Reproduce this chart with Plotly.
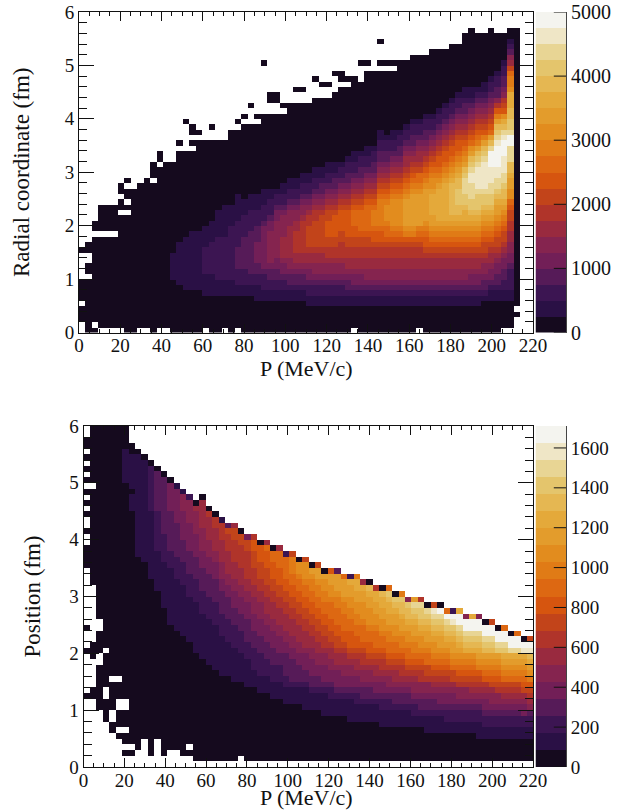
import plotly.graph_objects as go

# Each string is one P bin, read upward from the lowest coordinate bin.
# '.' = empty bin; 0-9,a-j = palette band of the count.
radial_bins = [
"..000.0000 .....0",
"0000000000 .00..00",
"0.00000000 00000000.0 0",
".000000000 00000000.0 0000",
".000000000 00000000.0 0000",
".000000000 00000000.0 0000",
".000000000 0000000000 00.00.00",
"0000000000 0000000000 00.0.00.0",
"0000000000 0000000000 0000000",
".000000000 0000000000 00000000",
".000000000 0000000000 000000000",
"0000000000 0000000000 00000000.0 00",
".000000000 0000000000 0000000000 0.00",
".000000000 0000000000 0000000000 00",
"0000000000 1111100000 0000000000 00",
"0000000001 1111111000 0000000000 0000.0",
"0000000011 1111111100 0000000000 0000.....0",
"0000000011 1111111110 0000000000 0000.0.00",
"0000000011 1111111110 0000000000 000000.0",
".000000111 1222221111 0000000000 000000",
"0000000111 1222222111 1000000000 000000..0",
"0000000111 2222222211 1110000000 000000",
".000000111 2222222211 1111000000 000000",
"0000000111 2222222222 1111000000 00000000",
".000000112 2233332222 2111110000 00000000.0",
"0000000112 2233333322 2211100000 000000000. 0",
"0000000112 2333333332 2221110000 000000000. ..0",
"0000001112 2334444333 2221110000 000000000. 0",
"0000001122 2344444444 3222111000 0000000000 0......... 0",
"0000001122 3345555554 4322211000 0000000000 0..00",
"0000001122 3344555555 5443221000 0000000000 0..00",
"0000001122 3445666655 5543221100 0000000000 0.0",
"0000001123 3455666666 5554322110 0000000000 000",
"0000001123 3456677776 6554322110 0000000000 000..0",
"0000001123 3456677777 7655432211 0000000000 000..0",
"0000011223 4456678888 7765432211 0000000000 000",
"0000011223 4556678888 8776543221 1000000000 0000...0",
"0000011223 4556678888 8876543321 1000000000 0000..0",
"0000011223 4556778899 9887654322 1100000000 0000..0",
"0000011223 4556778899 9987654332 1100000000 00000...0",
"0000011223 4556777889 9998765432 2100000000 000000.00",
"0000011233 4566778899 9998765433 2210000000 000000.0",
".000011234 4566778899 aaa9876543 2211000000 00000000",
"0000011234 456677889a aaa9876543 3221000000 0000000... 0",
"0000011234 556677889a aaaa987654 3221100000 000000000. 0",
"0000011234 556677899a bbba987654 3322100000 000000000.",
"0000011234 556677899a bbbbba9876 5433221100 000000000. 0...0",
"0000011234 55667789aa bcccba9876 5433221000 000000000. 0",
"0000011234 55667789ab cccccba987 6543221100 000000000. 0",
"0000011234 55667789ab cccccba987 6543322100 0000000000 0",
"0000011234 55667789bc dddddcba98 7665432210 0000000000 0",
"0000011234 55667789bc ddddddcba9 8765433221 0000000000 00",
".000011234 55667789ab ddddddcbaa 8766543221 0000000000 00",
"0000011234 55667899ab cddddddcba 9876543322 1000000000 00",
"0000011234 5566789abc ddeeeedccb a987654322 1000000000 000",
"0000011234 5566789abc deeeeeedcb a998765432 2100000000 000",
"0000011234 5566789abc deeeeeeedc ba99876543 2210000000 000",
"0000011234 5566789abc deffffffed cba9987654 3221000000 0000",
"0000011234 5566789abc deffgggffe dcba998765 4322100000 0000",
"0000011234 5566789abc deefgghhhg fdcba98765 4332110000 000000",
"0000011234 4566789abc defgghhhii hgfdca9876 5432110000 0000000",
"0000011234 4566789abc defggghiii ihgfdba987 6543210000 000000",
"0000001233 45567889ab cdefgghiii iihgfdb987 6543211000 000000",
"0000001123 44566789ab cdefgghhii ijjjhfda98 7654322100 0000000",
"0000001123 344567889a bcddefghhi ijjjjihgfd b975332210 000000",
".000001122 3344567889 abcdeffghh iiijjjihfe c987543322 100000",
".000001122 2234455667 7889accdde ffhhhjjhgg ffeeecbba8 6532100",
"...0.00000 0000000000 0000000000 0000000000 0000000000 0000000",
]

position_bins = [
".......... ..0....... 0...0..... .....0000. .0..0.0.0. 0.0.0.00..",
".......... ..00.....0 00........ ..00000000 000000000. 0000000000",
".......... 00000000.. 0000..0000 0000000000 0000000000 0000000000",
"........00 00..000000 .000000000 0000000000 0000000000 0000000000",
"......00.. 00000.0000 0000000000 0000000000 0000000000 0000000000",
".....0.000 ..000.0000 0000000000 0000000000 0000000000 0000000000",
"..0.00.000 ..00000000 0000000000 0000000000 0000000000 1111110000",
"..0.000000 0000000000 0000000000 0000000000 0000011101 1111100",
"...0000000 0000000000 0000000000 0000000111 1111111111 111110",
".....00000 0000000000 0000000000 0000001111 1111111111 11110",
"..00000000 0000000000 0000000000 0001111111 1111122222 2220",
".....00000 0000000000 0000000000 0111111122 2222233333 330",
"..00000000 0000000000 0000000011 1111112222 2333333333 30",
"...0000000 0000000000 0000011111 1111122233 3333344444 0",
"...0000000 0000000000 0000111111 1112222333 3334444441",
"..00000000 0000000000 0001111111 1122223333 444445551",
"..0.000000 0000000000 0011111111 2222333344 44455552",
".000000000 0000000000 1111111112 2223333444 4555560",
".000000000 0000000001 1111111222 2333344455 55666660",
".000000000 0000000011 1111112222 3333444555 666670",
".000000000 0000000111 1111122223 3334445566 66770",
".000000000 0000001111 1112222333 3445556666 7771",
".000000000 0000001111 1122223333 4455666677 783",
".000000000 0000011111 1222233344 4556667777 886",
"..00000000 0000011111 2222333444 5566677778 80",
".000000000 0000111112 2233334445 5667777788 4",
".000000000 0000111222 2333444555 6677788899 7",
".000000000 0001112222 3334445556 6778889990",
".000000000 0001112223 3344455666 77888999a6",
".000000000 0011122233 3444556667 788999aa0",
".000000000 0011122233 4445566677 88999aaa6",
".000000000 0111223333 4455666778 899aaaa2",
".000000000 0111233334 4556667788 99aabbb8",
".000000000 0111233344 5566677889 9aabcc0",
".000000000 1111233444 5666778899 aabccc8",
".000000000 1112334445 566778899a abbcd0",
".000000000 1112334455 66778899aa bbcdd8",
".000000001 1112344455 6778899aab bccd0",
".000000001 1122344556 678899aaab ccdd9",
".000000001 1123444566 78899aaabb cddd3",
".000000001 1123445566 7899aaabbc ddda",
".000000011 1123445567 8999aabbcc dde2",
".000000011 1223445667 899aabbccd deeb",
".000000011 1233455677 89aaabcccd de6",
".000000011 1233455678 99aabcccdd ef0",
".000000011 1234456678 9aaabccdde e7",
".000000111 2234456778 9aabccddee f0",
".000000111 2234556789 aabbcddeef ga",
".000000111 2334566789 aabccddefg 0",
".000000111 2334567789 abbcddeffg b",
".000000111 233456789a abccdeffg5",
".000000112 234556789a bbcddefghd",
".000000112 334557789a bccdefggh7",
".000001112 33455788aa bcddefgh0",
".000001112 33456789ab ccdefghi8",
".000001112 34456789ab cddefghj0",
".000001122 34456789ab cdefghja",
".000001122 3445688abc ddefgij2",
".000001122 3455789abc defghjje",
".000001122 3455789abc efghjj5",
".000001122 3456789abc efghjje",
".000011122 3456789bcd efghjj5",
".000011223 445679abcd fghjj0",
".000011223 455689abcd fghjj8",
".000011223 455789abcd ghjj0",
".000011223 45678abcde ghjja",
".000011223 45678abcde hjj0",
".000011223 45678abcde hjja",
".000011224 45689abcde ij0",
".000011223 56789bcdef ij8",
]

band_symbols = "0123456789abcdefghij"
radial_band = 250.0
position_band = 85.5
radial_ticks = [0, 1000, 2000, 3000, 4000, 5000]
position_ticks = [0, 200, 400, 600, 800, 1000, 1200, 1400, 1600]
band_colors = ["#150a1e", "#2a1045", "#3c1552", "#561b58", "#721f57", "#85244f",
               "#992a3f", "#b0342a", "#c2441a", "#d6550f", "#dd6812", "#e07b16",
               "#e28c1e", "#e39c2c", "#e4a93a", "#e5b752", "#e4c56c", "#e8d594",
               "#efe6c6", "#f4f4ef"]

N_X, N_Y = 70, 60
P_MAX, R_MAX = 220.0, 6.0
SERIF = "Liberation Serif, Times New Roman, serif"
INK = "#111111"
W, H = 623, 812


def to_matrix(columns, band):
    z = [[None] * N_X for _ in range(N_Y)]
    for c, text in enumerate(columns):
        text = text.replace(" ", "")
        for j, ch in enumerate(text[:N_Y]):
            if ch != ".":
                z[j][c] = (band_symbols.index(ch) + 0.5) * band
    return z


def stepped_scale():
    n = len(band_colors)
    out = []
    for i, col in enumerate(band_colors):
        out += [[i / n, col], [(i + 1) / n, col]]
    return out


def heat(columns, band, xa, ya):
    return go.Heatmap(
        z=to_matrix(columns, band), x0=P_MAX / N_X / 2, dx=P_MAX / N_X,
        y0=R_MAX / N_Y / 2, dy=R_MAX / N_Y, xaxis=xa, yaxis=ya,
        zmin=0, zmax=band * 20, colorscale=stepped_scale(), hoverongaps=False,
        showscale=False,
    )


def palette(band, xa, ya):
    n = len(band_colors)
    return go.Heatmap(
        z=[[(i + 0.5) * band] for i in range(n)], x0=0, dx=1, y0=band / 2, dy=band,
        xaxis=xa, yaxis=ya, zmin=0, zmax=band * n, colorscale=stepped_scale(),
        showscale=False, hoverinfo="skip",
    )


def palette_ticks(ticks, xa, ya):
    # short marks drawn over the palette, from its right edge inward
    xs, ys = [], []
    for t in ticks:
        xs += [0.1, 0.5, None]
        ys += [t, t, None]
    return go.Scatter(x=xs, y=ys, mode="lines", xaxis=xa, yaxis=ya,
                      line=dict(color=INK, width=1), hoverinfo="skip", cliponaxis=False)


fig = go.Figure()
fig.add_trace(heat(radial_bins, radial_band, "x", "y"))
fig.add_trace(heat(position_bins, position_band, "x2", "y2"))
fig.add_trace(palette(radial_band, "x3", "y3"))
fig.add_trace(palette(position_band, "x4", "y4"))
fig.add_trace(palette_ticks(radial_ticks, "x3", "y3"))
fig.add_trace(palette_ticks(position_ticks, "x4", "y4"))


def x_axis(left, right, anchor):
    return dict(
        domain=[left / W, right / W], anchor=anchor, range=[0, P_MAX],
        dtick=20, tick0=0, ticks="inside", ticklen=9, tickwidth=1, tickcolor=INK,
        minor=dict(dtick=5, tick0=0, ticks="inside", ticklen=4, tickwidth=1, tickcolor=INK),
        mirror="ticks", showline=True, linecolor=INK, linewidth=1,
        showgrid=False, zeroline=False, ticklabelstandoff=-4,
        tickfont=dict(family=SERIF, size=19, color=INK),
    )


def y_axis(top, bottom, anchor, title, standoff):
    return dict(
        domain=[1 - bottom / H, 1 - top / H], anchor=anchor, range=[0, R_MAX],
        dtick=1, tick0=0, ticks="inside", ticklen=15, tickwidth=1, tickcolor=INK,
        minor=dict(dtick=0.2, tick0=0, ticks="inside", ticklen=8, tickwidth=1, tickcolor=INK),
        mirror="ticks", showline=True, linecolor=INK, linewidth=1,
        showgrid=False, zeroline=False,
        tickfont=dict(family=SERIF, size=19, color=INK),
        title=dict(text=title, font=dict(family=SERIF, size=23, color=INK), standoff=standoff),
    )


def bar_x(anchor):
    return dict(domain=[535.5 / W, 566 / W], anchor=anchor, range=[-0.5, 0.5], visible=False)


def bar_y(top, bottom, anchor, band, ticks, size):
    return dict(
        domain=[1 - bottom / H, 1 - top / H], anchor=anchor, side="right",
        range=[0, band * len(band_colors)], tickmode="array", tickvals=ticks,
        ticktext=[str(t) for t in ticks], ticks="", showline=True,
        linecolor="#444444", linewidth=1, showgrid=False, zeroline=False,
        tickfont=dict(family=SERIF, size=size, color=INK),
    )


def x_title(y_px):
    return dict(text="P (MeV/c)", xref="paper", yref="paper", x=306 / W, y=1 - y_px / H,
                xanchor="center", yanchor="middle", showarrow=False,
                font=dict(family=SERIF, size=22, color=INK))


fig.update_layout(
    width=W, height=H, autosize=False,
    margin=dict(l=0, r=0, t=0, b=0, pad=0, autoexpand=False),
    paper_bgcolor="white", plot_bgcolor="white", showlegend=False,
    xaxis=x_axis(79, 533, "y"), yaxis=y_axis(12, 332.5, "x", "Radial coordinate (fm)", 28),
    xaxis2=x_axis(83.5, 533, "y2"), yaxis2=y_axis(426, 767, "x2", "Position (fm)", 22),
    xaxis3=bar_x("y3"), yaxis3=bar_y(12, 332.5, "x3", radial_band, radial_ticks, 20),
    xaxis4=bar_x("y4"), yaxis4=bar_y(426, 767, "x4", position_band, position_ticks, 19),
    annotations=[x_title(368), x_title(797.5)],
)

fig.write_html("out.html", config={"displayModeBar": False},
               post_script="document.body.style.margin='0';")
